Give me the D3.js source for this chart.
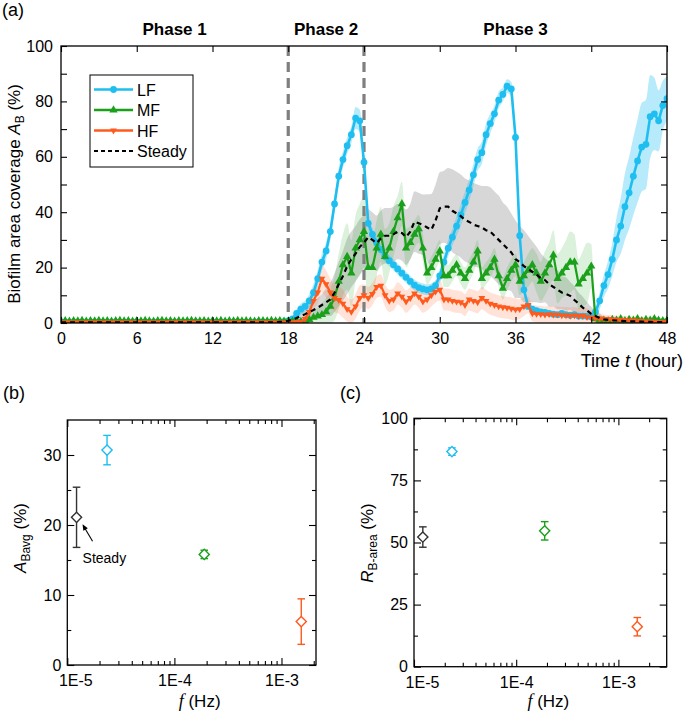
<!DOCTYPE html>
<html><head><meta charset="utf-8">
<script src="https://cdn.jsdelivr.net/npm/d3@7"></script>
<style>body{margin:0;background:#fff;} svg{display:block;font-family:"Liberation Sans",Arial,sans-serif;}</style>
</head><body><svg id="c" width="685" height="712"></svg>
<script>
// ---------------- DATA ----------------
// Panel (a): biofilm area coverage sampled every 20 min (1/3 h), t = 0..48 h (145 samples)
const sampleStepHours = 1 / 3;
const timeTicks = [0, 6, 12, 18, 24, 30, 36, 42, 48];
const phaseLabels = ["Phase 1", "Phase 2", "Phase 3"];
const phaseCenters = [9, 21, 36];      // hours (label centres)
const phaseBoundaries = [18, 24];      // hours
const seriesNames = ["LF", "MF", "HF", "Steady"];

const lfValues = [
 0.3,0.3,0.2, 0.3,0.3,0.3, 0.2,0.3,0.3, 0.3,0.3,0.2, 0.3,0.3,0.3, 0.3,0.2,0.3,
 0.3,0.3,0.3, 0.2,0.3,0.3, 0.3,0.3,0.3, 0.3,0.2,0.3, 0.3,0.3,0.3, 0.3,0.3,0.2,
 0.3,0.3,0.3, 0.3,0.3,0.3, 0.2,0.3,0.3, 0.3,0.3,0.4, 0.3,0.3,0.4, 0.4,0.4,0.5,
 0.8,1.5,3.5, 5,6,8, 11,16,22, 26,33,43, 53,59,64, 68,74,73,
 58,36,32, 29,26.5,24, 22.5,21,19.5, 18,16.5,15, 13.7,12.8,12.3, 12,12.3,13.5,
 17,22,27, 31,35,39, 43.5,48,53.5, 59,61.5,68, 72,75.5,80.5, 82.5,85.5,84.5,
 67,31.5,12, 6,5,4.5, 4,3.8,3.5, 3.2,3,3.5, 3,2.8,3, 2.5,2.5,2.4,
 2.3,4,8, 13.5,17.5,23, 30,35,42, 47,53,58.5, 63.5,64.5,74.5, 75.5,73,78.5,
 81];
const lfSd = [
 0.3,0.3,0.3, 0.3,0.3,0.3, 0.3,0.3,0.3, 0.3,0.3,0.3, 0.3,0.3,0.3, 0.3,0.3,0.3,
 0.3,0.3,0.3, 0.3,0.3,0.3, 0.3,0.3,0.3, 0.3,0.3,0.3, 0.3,0.3,0.3, 0.3,0.3,0.3,
 0.3,0.3,0.3, 0.3,0.3,0.3, 0.3,0.3,0.3, 0.3,0.3,0.3, 0.3,0.3,0.3, 0.3,0.3,0.4,
 0.5,1,1.5, 2,2,2.5, 3,3,3, 3,3,3, 3,3,3, 3,4,4,
 3,3,2.5, 2,2,2, 2,2,2, 2,2,2, 2,2,2, 2,2,2,
 2.5,3,3, 3,3.5,4, 4,4,4, 4,4,4, 3.5,3,3, 2.5,2.5,2.5,
 2.5,2,1.5, 1,1,1, 1,1,1, 1,1,1, 1,1,1, 1,1,1,
 1,2,3, 4,5,6, 8,10,12, 13,14,15, 16,16,15, 13,11,9,
 8];

const mfValues = [
 0.7,0.8,0.6, 0.8,0.7,0.9, 0.6,0.8,0.7, 0.9,0.7,0.8, 0.6,0.8,0.9, 0.7,0.8,0.6,
 0.8,0.7,0.9, 0.7,0.6,0.8, 0.9,0.7,0.8, 0.6,0.8,0.7, 0.8,0.9,0.7, 0.7,0.8,0.6,
 0.8,0.7,0.9, 0.6,0.8,0.7, 0.9,0.7,0.8, 0.7,0.6,0.8, 0.8,0.7,0.9, 0.7,0.8,0.6,
 0.7,0.6,0.8, 0.5,0.8,1.2, 2,2.5,3, 4,6,9, 15,21,24, 18,27,30,
 33,20,20, 27,32,24, 27,33,38, 43,27,29, 32,34,27, 18,20,23,
 26,17,17, 19,21,18, 16,19,22, 26,16,18, 20,23,17, 12.5,16,19,
 21,15,17, 19,21,18, 15,18,21, 24.5,16,18, 20,22,22, 14,16,18,
 20.5,1.5,1, 1,0.8,1.2, 1,1.5,0.8, 1.2,1,1.5, 0.8,1.2,1, 1.5,1,0.8,
 1];
const mfSd = [
 0.5,0.5,0.5, 0.5,0.5,0.5, 0.5,0.5,0.5, 0.5,0.5,0.5, 0.5,0.5,0.5, 0.5,0.5,0.5,
 0.5,0.5,0.5, 0.5,0.5,0.5, 0.5,0.5,0.5, 0.5,0.5,0.5, 0.5,0.5,0.5, 0.5,0.5,0.5,
 0.5,0.5,0.5, 0.5,0.5,0.5, 0.5,0.5,0.5, 0.5,0.5,0.5, 0.5,0.5,0.5, 0.5,0.5,0.5,
 0.5,0.5,0.5, 0.5,1,1.5, 2,3,4, 5,6,8, 10,11,12, 12,12,13,
 13,12,11, 10,10,10, 9,9,8, 8,7,6, 5,5,5, 4,4,4,
 4,4,4, 4,4,4, 4,4,4, 4,4,4, 4,4,4, 4,4,4,
 4,5,5, 6,6,7, 7,8,8, 9,9,9, 10,11,10, 9,10,11,
 8,2,1.5, 1,1,1, 1,1,1, 1,1,1, 1,1,1, 1,1,1,
 1];

const hfValues = [
 0.2,0.2,0.2, 0.2,0.2,0.2, 0.2,0.2,0.2, 0.2,0.2,0.2, 0.2,0.2,0.2, 0.2,0.2,0.2,
 0.2,0.2,0.2, 0.2,0.2,0.2, 0.2,0.2,0.2, 0.2,0.2,0.2, 0.2,0.2,0.2, 0.2,0.2,0.2,
 0.2,0.2,0.2, 0.2,0.2,0.2, 0.2,0.2,0.2, 0.2,0.2,0.2, 0.2,0.2,0.2, 0.2,0.2,0.2,
 0.2,0.3,0.4, 0.5,1.5,4, 8,11,16, 14,11,9, 8.3,7,5, 4,6,9,
 10,9,10.5, 13,13.5,10, 8,8.5,10.7, 9.5,7.7,9, 10.7,9.5,7.7, 8.5,10,11.3,
 12,8.5,8.5, 8,7.7,7.5, 6.5,8.5,8, 7.5,9,8, 7,6.5,6, 5.7,5.5,5.2,
 4.9,5,6, 6.5,3.5,3.3, 3.2,3,3.2, 3,3,2.8, 2.8,2.6,2.8, 2.5,2.6,2.2,
 2,1.8,1.6, 1.5,1.4,1.3, 1.2,1.1,1, 0.9,0.9,0.8, 0.7,0.6,0.6, 0.5,0.4,0.4,
 0.3];
const hfSd = [
 0.3,0.3,0.3, 0.3,0.3,0.3, 0.3,0.3,0.3, 0.3,0.3,0.3, 0.3,0.3,0.3, 0.3,0.3,0.3,
 0.3,0.3,0.3, 0.3,0.3,0.3, 0.3,0.3,0.3, 0.3,0.3,0.3, 0.3,0.3,0.3, 0.3,0.3,0.3,
 0.3,0.3,0.3, 0.3,0.3,0.3, 0.3,0.3,0.3, 0.3,0.3,0.3, 0.3,0.3,0.3, 0.3,0.3,0.3,
 0.3,0.3,0.3, 0.5,1,2, 3,4,5, 5,5,5, 5,5,4.5, 4.5,4.5,4.5,
 4,4,4, 4,4,4, 4,4,4, 4,4,4, 4,4,4, 4,4,4,
 4,4,4, 4,4,4, 4,4,4, 4,4,4, 4,4,4, 4,4,4,
 4,3.5,3.5, 3,3,3, 3,3,3, 3,3,3, 3,3,3, 3,3,3,
 2.5,2,2, 1.5,1.5,1.5, 1.5,1.5,1.5, 1.5,1.5,1.5, 1.5,1.5,1.5, 1.5,1.5,1.5,
 1.5];

const steadyValues = [
 0.2,0.2,0.2, 0.2,0.2,0.2, 0.2,0.2,0.2, 0.2,0.2,0.2, 0.2,0.2,0.2, 0.2,0.2,0.2,
 0.2,0.2,0.2, 0.2,0.2,0.2, 0.2,0.2,0.2, 0.2,0.2,0.2, 0.2,0.2,0.2, 0.2,0.2,0.2,
 0.2,0.2,0.2, 0.2,0.2,0.2, 0.2,0.2,0.2, 0.2,0.2,0.2, 0.2,0.2,0.2, 0.3,0.4,0.5,
 0.8,1.2,1.8, 2.5,3.2,4, 4.7,5.5,6.5, 7.5,8.5,11, 14,17,20.5, 23,25,27.5,
 29,31,30, 28.8,30.5,31.5, 31.5,32,33, 32.5,31,33, 36.6,36,35.4, 34.5,33.6,37,
 41.4,42,42, 40.5,39.6,38.6, 37.2,36.5,35.5, 35,34.5,33.5, 33,31.5,30, 28.5,27,25.5,
 23,22,20.5, 19.5,18.5,17.5, 16.2,15.5,14, 13,12,11, 10.5,9.8,8.3, 7,5.5,4.5,
 3.3,2.5,1.8, 1.3,1.1,1, 0.9,0.8,0.7, 0.6,0.6,0.5, 0.5,0.4,0.4, 0.3,0.3,0.3,
 0.2];
const steadySd = [
 0.3,0.3,0.3, 0.3,0.3,0.3, 0.3,0.3,0.3, 0.3,0.3,0.3, 0.3,0.3,0.3, 0.3,0.3,0.3,
 0.3,0.3,0.3, 0.3,0.3,0.3, 0.3,0.3,0.3, 0.3,0.3,0.3, 0.3,0.3,0.3, 0.3,0.3,0.3,
 0.3,0.3,0.3, 0.3,0.3,0.3, 0.3,0.3,0.3, 0.3,0.3,0.3, 0.3,0.3,0.3, 0.3,0.3,0.3,
 0.5,1,1.5, 2,2.5,3, 3,3.5,4, 5,6,7, 8,9,10, 10,10,10,
 10,10,10, 10,10,10, 10,10,10, 10,10,10, 11,11,11, 12,13,13,
 13,13,14, 15,15,15, 15,15,15, 15,15,16, 16,16,16, 15,15,14,
 14,13,13, 12,11,10, 9,8,8, 7,7,6, 6,5,5, 4,4,3,
 2.5,2,1.5, 1,1,1, 1,1,1, 1,1,1, 1,1,1, 1,1,1,
 1];

// Panels (b) and (c): frequency dependence (order: Steady, LF, MF, HF)
const pointNames = ["Steady", "LF", "MF", "HF"];
const freqHz = [1.22e-5, 2.35e-5, 1.9e-4, 1.53e-3];
const aBavg = [21.1, 30.7, 15.8, 6.2];
const aBavgErr = [4.3, 2.1, 0.6, 3.25];
const rBarea = [52.2, 86.6, 54.7, 16.1];
const rBareaErr = [4.1, 1.5, 3.7, 3.7];
const logTickLabels = ["1E-5", "1E-4", "1E-3"];
const logTickValues = [1e-5, 1e-4, 1e-3];

// ---------------- STYLE ----------------
const COLORS = { LF: "#1EBEF0", MF: "#1AA01A", HF: "#FF5A1E", Steady: "#000000" };
const BANDS = { LF: "rgba(30,190,240,0.32)", MF: "rgba(40,170,40,0.16)", HF: "rgba(255,110,60,0.2)", Steady: "rgba(130,130,130,0.32)" };
const PT_COLORS = { Steady: "#333333", LF: "#1EBEF0", MF: "#1AA01A", HF: "#FF5A1E" };

const svg = d3.select("#c");
const defs = svg.append("defs");

function styleAxis(g, size) {
  g.select(".domain").remove();
  g.selectAll("text").attr("font-family", '"Liberation Sans", Arial, sans-serif').attr("font-size", size).attr("fill", "#000");
  g.selectAll("line").attr("stroke", "#000").attr("stroke-width", 1.1);
}

// ---------------- PANEL (a) ----------------
const A = { l: 61, r: 667, t: 46, b: 323 };
const xA = d3.scaleLinear().domain([0, 48]).range([A.l, A.r]);
const yA = d3.scaleLinear().domain([0, 100]).range([A.b, A.t]);

defs.append("clipPath").attr("id", "clipA").append("rect")
  .attr("x", A.l).attr("y", A.t).attr("width", A.r - A.l).attr("height", A.b - A.t);

const seriesDefs = [
  { name: "Steady", vals: steadyValues, sd: steadySd },
  { name: "MF", vals: mfValues, sd: mfSd },
  { name: "HF", vals: hfValues, sd: hfSd },
  { name: "LF", vals: lfValues, sd: lfSd }
];
function rows(s) {
  const n = Math.min(s.vals.length, s.sd.length);
  return d3.range(n).map(i => ({ t: i * sampleStepHours, v: s.vals[i], sd: s.sd[i] }));
}

const plotA = svg.append("g").attr("clip-path", "url(#clipA)");
const area = d3.area().x(d => xA(d.t)).y0(d => yA(Math.max(0, d.v - d.sd))).y1(d => yA(d.v + d.sd)).curve(d3.curveMonotoneX);
seriesDefs.forEach(s => {
  plotA.append("path").datum(rows(s)).attr("d", area).attr("fill", BANDS[s.name]).attr("stroke", "none");
});

// phase boundaries
plotA.selectAll(".phaseLine").data(phaseBoundaries).enter().append("line")
  .attr("x1", d => xA(d)).attr("x2", d => xA(d)).attr("y1", A.t).attr("y2", A.b)
  .attr("stroke", "#7f7f7f").attr("stroke-width", 3.2).attr("stroke-dasharray", "10,6");

const line = d3.line().x(d => xA(d.t)).y(d => yA(d.v));
const lineOrder = ["LF", "MF", "HF", "Steady"];
const byName = {}; seriesDefs.forEach(s => byName[s.name] = s);
lineOrder.forEach(name => {
  const s = byName[name];
  const data = rows(s);
  const g = plotA.append("g");
  if (name === "Steady") {
    g.append("path").datum(data).attr("d", line).attr("fill", "none").attr("stroke", "#000")
      .attr("stroke-width", 2.2).attr("stroke-dasharray", "5,4");
    return;
  }
  g.append("path").datum(data).attr("d", line).attr("fill", "none").attr("stroke", COLORS[name])
    .attr("stroke-width", name === "LF" ? 2.6 : 2.2).attr("stroke-linejoin", "round");
  let sym;
  if (name === "LF") sym = d3.symbol(d3.symbolCircle, 36);
  else if (name === "MF") sym = d3.symbol(d3.symbolTriangle, 30);
  else sym = d3.symbol(d3.symbolTriangle, 20);
  g.selectAll("path.m").data(data).enter().append("path").attr("class", "m")
    .attr("d", sym)
    .attr("transform", d => `translate(${xA(d.t)},${yA(d.v)})` + (name === "HF" ? " rotate(180)" : ""))
    .attr("fill", COLORS[name]);
});

// axes (a)
const gxA = svg.append("g").attr("transform", `translate(0,${A.b})`)
  .call(d3.axisBottom(xA).tickValues(timeTicks).tickSizeInner(-6).tickSizeOuter(0).tickPadding(10).tickFormat(d3.format("d")));
styleAxis(gxA, "16px");
const gxAt = svg.append("g").attr("transform", `translate(0,${A.t})`)
  .call(d3.axisTop(xA).tickValues(timeTicks).tickSizeInner(-6).tickSizeOuter(0).tickFormat(""));
styleAxis(gxAt, "16px");
const gyA = svg.append("g").attr("transform", `translate(${A.l},0)`)
  .call(d3.axisLeft(yA).tickValues([0, 20, 40, 60, 80, 100]).tickSizeInner(-6).tickSizeOuter(0).tickPadding(8));
styleAxis(gyA, "16px");
const gyAm = svg.append("g").attr("transform", `translate(${A.l},0)`)
  .call(d3.axisLeft(yA).tickValues([10, 30, 50, 70, 90]).tickSizeInner(-6).tickSizeOuter(0).tickFormat(""));
styleAxis(gyAm, "16px");
const gyAr = svg.append("g").attr("transform", `translate(${A.r},0)`)
  .call(d3.axisRight(yA).tickValues(d3.range(10, 100, 10)).tickSizeInner(-6).tickSizeOuter(0).tickFormat(""));
styleAxis(gyAr, "16px");
svg.append("rect").attr("x", A.l).attr("y", A.t).attr("width", A.r - A.l).attr("height", A.b - A.t)
  .attr("fill", "none").attr("stroke", "#000").attr("stroke-width", 1.3);

// phase labels
svg.selectAll(".phase").data(phaseLabels).enter().append("text")
  .attr("x", (d, i) => xA(phaseCenters[i])).attr("y", 35).attr("text-anchor", "middle")
  .attr("font-size", "17px").attr("font-weight", "bold").text(d => d);

// panel letter
svg.append("text").attr("x", 2).attr("y", 16).attr("font-size", "18px").text("(a)");

// axis titles (a)
const tA = svg.append("text").attr("x", 683).attr("y", 367).attr("text-anchor", "end").attr("font-size", "18px");
tA.append("tspan").text("Time ");
tA.append("tspan").attr("font-style", "italic").text("t");
tA.append("tspan").text(" (hour)");

const yTitleA = svg.append("text").attr("transform", "translate(20,194) rotate(-90)")
  .attr("text-anchor", "middle").attr("font-size", "17px");
yTitleA.append("tspan").text("Biofilm area coverage ");
yTitleA.append("tspan").attr("font-style", "italic").text("A");
yTitleA.append("tspan").attr("font-size", "12px").attr("dy", 4).text("B");
yTitleA.append("tspan").attr("dy", -4).text(" (%)");

// legend
const L = { x: 90, y: 75, w: 103, h: 92 };
svg.append("rect").attr("x", L.x).attr("y", L.y).attr("width", L.w).attr("height", L.h)
  .attr("fill", "#fff").attr("stroke", "#000").attr("stroke-width", 1);
seriesNames.forEach((name, i) => {
  const yy = L.y + 14.5 + i * 20.5;
  const g = svg.append("g");
  if (name === "Steady") {
    g.append("line").attr("x1", L.x + 4).attr("x2", L.x + 43).attr("y1", yy).attr("y2", yy)
      .attr("stroke", "#000").attr("stroke-width", 2).attr("stroke-dasharray", "4,3");
  } else {
    g.append("line").attr("x1", L.x + 4).attr("x2", L.x + 43).attr("y1", yy).attr("y2", yy)
      .attr("stroke", COLORS[name]).attr("stroke-width", 2.4);
    let sym = name === "LF" ? d3.symbol(d3.symbolCircle, 36) : d3.symbol(d3.symbolTriangle, name === "MF" ? 30 : 20);
    g.append("path").attr("d", sym).attr("fill", COLORS[name])
      .attr("transform", `translate(${L.x + 23.5},${yy})` + (name === "HF" ? " rotate(180)" : ""));
  }
  g.append("text").attr("x", L.x + 47).attr("y", yy + 6).attr("font-size", "16px").text(name);
});

// ---------------- PANELS (b) & (c) ----------------
function logMinor(domain) {
  const out = [];
  for (let e = -6; e <= -2; e++) for (let k = 2; k <= 9; k++) {
    const v = k * Math.pow(10, e);
    if (v > domain[0] && v < domain[1]) out.push(v);
  }
  return out;
}

function scatterPanel(opt) {
  const B = opt.box;
  const x = d3.scaleLog().domain(opt.xDomain).range([B.l, B.r]);
  const y = d3.scaleLinear().domain(opt.yDomain).range([B.b, B.t]);
  const minorX = logMinor(opt.xDomain);
  // bottom
  const gb = svg.append("g").attr("transform", `translate(0,${B.b})`)
    .call(d3.axisBottom(x).tickValues(logTickValues).tickSizeInner(-7).tickSizeOuter(0).tickPadding(10)
      .tickFormat((d, i) => logTickLabels[i]));
  styleAxis(gb, "16px");
  gb.selectAll(".tick text").attr("dx", (d, i) => i === 0 ? 8 : 0);
  const gbm = svg.append("g").attr("transform", `translate(0,${B.b})`)
    .call(d3.axisBottom(x).tickValues(minorX).tickSizeInner(-4).tickSizeOuter(0).tickFormat(""));
  styleAxis(gbm, "16px");
  const gt = svg.append("g").attr("transform", `translate(0,${B.t})`)
    .call(d3.axisTop(x).tickValues(logTickValues).tickSizeInner(-7).tickSizeOuter(0).tickFormat(""));
  styleAxis(gt, "16px");
  const gtm = svg.append("g").attr("transform", `translate(0,${B.t})`)
    .call(d3.axisTop(x).tickValues(minorX).tickSizeInner(-4).tickSizeOuter(0).tickFormat(""));
  styleAxis(gtm, "16px");
  // left/right
  const gl = svg.append("g").attr("transform", `translate(${B.l},0)`)
    .call(d3.axisLeft(y).tickValues(opt.yMajor).tickSizeInner(-7).tickSizeOuter(0).tickPadding(6));
  styleAxis(gl, "16px");
  const glm = svg.append("g").attr("transform", `translate(${B.l},0)`)
    .call(d3.axisLeft(y).tickValues(opt.yMinor).tickSizeInner(-4).tickSizeOuter(0).tickFormat(""));
  styleAxis(glm, "16px");
  const gr = svg.append("g").attr("transform", `translate(${B.r},0)`)
    .call(d3.axisRight(y).tickValues(opt.yMajor).tickSizeInner(-7).tickSizeOuter(0).tickFormat(""));
  styleAxis(gr, "16px");
  const grm = svg.append("g").attr("transform", `translate(${B.r},0)`)
    .call(d3.axisRight(y).tickValues(opt.yMinor).tickSizeInner(-4).tickSizeOuter(0).tickFormat(""));
  styleAxis(grm, "16px");
  svg.append("rect").attr("x", B.l).attr("y", B.t).attr("width", B.r - B.l).attr("height", B.b - B.t)
    .attr("fill", "none").attr("stroke", "#000").attr("stroke-width", 1.3);

  // points with error bars
  const pts = pointNames.map((n, i) => ({ n, f: freqHz[i], v: opt.vals[i], e: opt.errs[i] }));
  const g = svg.append("g");
  pts.forEach(p => {
    const c = PT_COLORS[p.n];
    const px = x(p.f);
    g.append("line").attr("x1", px).attr("x2", px).attr("y1", y(p.v - p.e)).attr("y2", y(p.v + p.e))
      .attr("stroke", c).attr("stroke-width", 1.4);
    [p.v - p.e, p.v + p.e].forEach(vv => {
      g.append("line").attr("x1", px - 3.8).attr("x2", px + 3.8).attr("y1", y(vv)).attr("y2", y(vv))
        .attr("stroke", c).attr("stroke-width", 1.4);
    });
    g.append("path").attr("d", d3.symbol(d3.symbolSquare, 52))
      .attr("transform", `translate(${px},${y(p.v)}) rotate(45)`)
      .attr("fill", "#fff").attr("stroke", c).attr("stroke-width", 1.4);
  });

  // titles
  const tx = svg.append("text").attr("x", (B.l + B.r) / 2 + opt.xTitleShift).attr("y", 707).attr("text-anchor", "middle").attr("font-size", "17px");
  tx.append("tspan").attr("font-family", '"Liberation Serif", serif').attr("font-style", "italic").attr("font-size", "18px").text("f");
  tx.append("tspan").text(" (Hz)");

  const ty = svg.append("text").attr("transform", `translate(${opt.yTitleX},${opt.yTitleY}) rotate(-90)`)
    .attr("text-anchor", "middle").attr("font-size", "17px");
  ty.append("tspan").attr("font-style", "italic").text(opt.yTitleMain);
  ty.append("tspan").attr("font-size", "12px").attr("dy", 4).text(opt.yTitleSub);
  ty.append("tspan").attr("dy", -4).text(" (%)");

  svg.append("text").attr("x", opt.letterX).attr("y", 399).attr("font-size", "18px").text(opt.letter);
  return { x, y };
}

const sb = scatterPanel({
  box: { l: 67.3, r: 316, t: 420, b: 665 },
  xDomain: [1e-5, 2.1e-3], yDomain: [0, 35],
  yMajor: [0, 10, 20, 30], yMinor: [5, 15, 25],
  vals: aBavg, errs: aBavgErr,
  yTitleMain: "A", yTitleSub: "Bavg", yTitleX: 26, yTitleY: 538,
  xTitleShift: 8, letter: "(b)", letterX: 3
});
// "Steady" annotation in (b)
{
  const px = sb.x(freqHz[0]), py = sb.y(aBavg[0]);
  const tip = [px + 6, py + 7], tail = [px + 16, py + 24];
  const ang = Math.atan2(tip[1] - tail[1], tip[0] - tail[0]);
  svg.append("line").attr("x1", tail[0]).attr("y1", tail[1]).attr("x2", tip[0] - 4 * Math.cos(ang)).attr("y2", tip[1] - 4 * Math.sin(ang))
    .attr("stroke", "#000").attr("stroke-width", 1.1);
  const hl = 6, hw = 2.6;
  const bx = tip[0] - hl * Math.cos(ang), by = tip[1] - hl * Math.sin(ang);
  svg.append("path").attr("d", `M${tip[0]},${tip[1]} L${bx + hw * Math.sin(ang)},${by - hw * Math.cos(ang)} L${bx - hw * Math.sin(ang)},${by + hw * Math.cos(ang)} Z`).attr("fill", "#000");
  svg.append("text").attr("x", px + 6).attr("y", py + 46).attr("font-size", "14px").text("Steady");
}

scatterPanel({
  box: { l: 414, r: 666.7, t: 418.3, b: 666.7 },
  xDomain: [1e-5, 2.97e-3], yDomain: [0, 100],
  yMajor: [0, 25, 50, 75, 100], yMinor: [12.5, 37.5, 62.5, 87.5],
  vals: rBarea, errs: rBareaErr,
  yTitleMain: "R", yTitleSub: "B-area", yTitleX: 373, yTitleY: 543,
  xTitleShift: 8, letter: "(c)", letterX: 340
});
</script>
</body></html>
